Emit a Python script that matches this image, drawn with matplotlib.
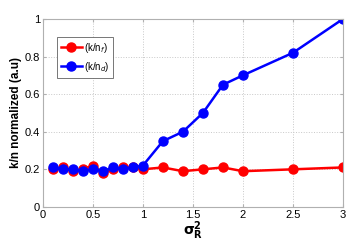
import matplotlib
matplotlib.use('Agg')
import matplotlib.pyplot as plt

plt.rcParams['font.family'] = ['Liberation Sans', 'DejaVu Sans']

sigma = [0.1, 0.2, 0.3, 0.4, 0.5, 0.6, 0.7, 0.8, 0.9, 1.0, 1.2, 1.4, 1.6, 1.8, 2.0, 2.5, 3.0]
k_nf = [0.20, 0.21, 0.19, 0.20, 0.22, 0.18, 0.20, 0.21, 0.21, 0.20, 0.21, 0.19, 0.20, 0.21, 0.19, 0.20, 0.21]
k_nd = [0.21, 0.20, 0.20, 0.19, 0.20, 0.19, 0.21, 0.20, 0.21, 0.22, 0.35, 0.40, 0.50, 0.65, 0.70, 0.82, 1.00]

fig = plt.figure(figsize=(3.63, 2.49), dpi=100)
ax = fig.add_axes([0.118, 0.169, 0.827, 0.755])

ax.plot(sigma, k_nf, '-o', color='#ff0000', lw=1.8, ms=6.5, label=r'(k/n$_f$)')
ax.plot(sigma, k_nd, '-o', color='#0000ff', lw=1.8, ms=6.5, label=r'(k/n$_d$)')

ax.set_xlim(0, 3)
ax.set_ylim(0, 1)
ax.set_xticks([0, 0.5, 1, 1.5, 2, 2.5, 3])
ax.set_xticklabels(['0', '0.5', '1', '1.5', '2', '2.5', '3'])
ax.set_yticks([0, 0.2, 0.4, 0.6, 0.8, 1])
ax.set_yticklabels(['0', '0.2', '0.4', '0.6', '0.8', '1'])
ax.grid(True, ls=':', color='#c8c8c8', lw=0.7)
for s in ax.spines.values():
    s.set_color('#b0b0b0')
ax.tick_params(labelsize=8, length=2, color='#b0b0b0', direction='in', top=True, right=True, pad=2)

ax.set_ylabel('k/n normalized (a.u)', fontsize=8.5, fontweight='bold', labelpad=2)
ax.set_xlabel(r'$\mathbf{\sigma_R^2}$', fontsize=10, labelpad=0)

leg = ax.legend(loc='upper left', bbox_to_anchor=(0.03, 0.93), fontsize=7, handlelength=2.2,
                handletextpad=0.2, borderpad=0.4, labelspacing=0.5, fancybox=False,
                edgecolor='#606060', framealpha=1)
leg.get_frame().set_linewidth(0.6)

plt.savefig('out.png', dpi=100)
